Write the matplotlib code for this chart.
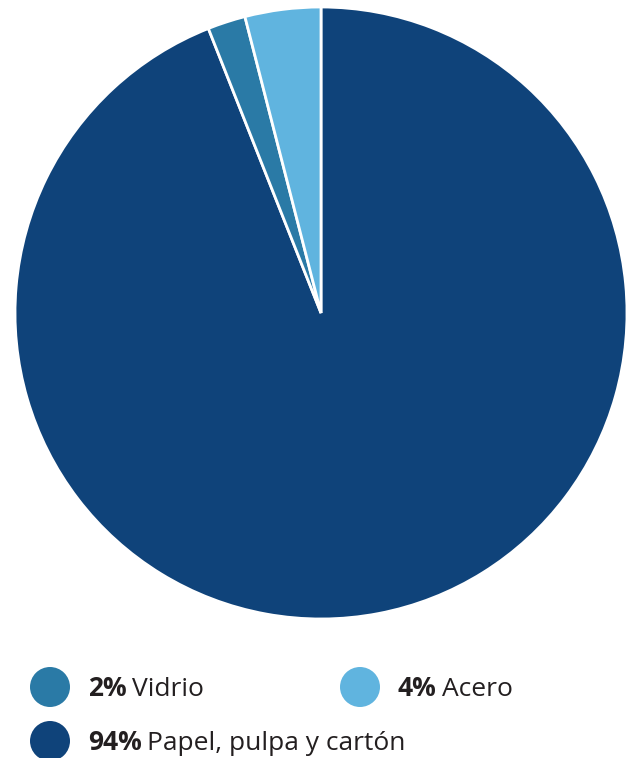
import matplotlib.pyplot as plt
from matplotlib.patches import Circle

plt.rcParams['font.family'] = ['Open Sans', 'DejaVu Sans']

# datos
categorias = ["Papel, pulpa y cartón", "Vidrio", "Acero"]
valores = [94, 2, 4]
colores = ["#0f437a", "#2a7aa6", "#60b4df"]
etiquetas_pct = ["94%", "2%", "4%"]

W, H = 627, 758
fig = plt.figure(figsize=(W / 100, H / 100), dpi=100)
ax = fig.add_axes([0, 0, 1, 1])
ax.set_xlim(0, W)
ax.set_ylim(0, H)
ax.set_aspect('equal')
ax.axis('off')

ax.pie(valores, colors=colores, startangle=90, counterclock=False,
       center=(321, H - 313), radius=306,
       wedgeprops=dict(edgecolor='white', linewidth=2))
ax.set_xlim(0, W)
ax.set_ylim(0, H)

# leyenda: (x circulo, y baseline) en pixeles desde arriba
posiciones = {"Vidrio": (50, 687), "Acero": (360, 687), "Papel, pulpa y cartón": (50, 741)}
fig.canvas.draw()
renderer = fig.canvas.get_renderer()
for cat, pct, col in zip(categorias, etiquetas_pct, colores):
    cx, cy = posiciones[cat]
    ax.add_patch(Circle((cx, H - cy), 20, color=col, lw=0))
    t = ax.text(cx + 38, H - cy - 9, pct, fontsize=19, fontweight='bold',
                color='#231f20', va='baseline', ha='left')
    bb = t.get_window_extent(renderer)
    ax.text(cx + 38 + bb.width + 5, H - cy - 9, cat, fontsize=19,
            color='#231f20', va='baseline', ha='left')

fig.savefig('out.png', dpi=100)
